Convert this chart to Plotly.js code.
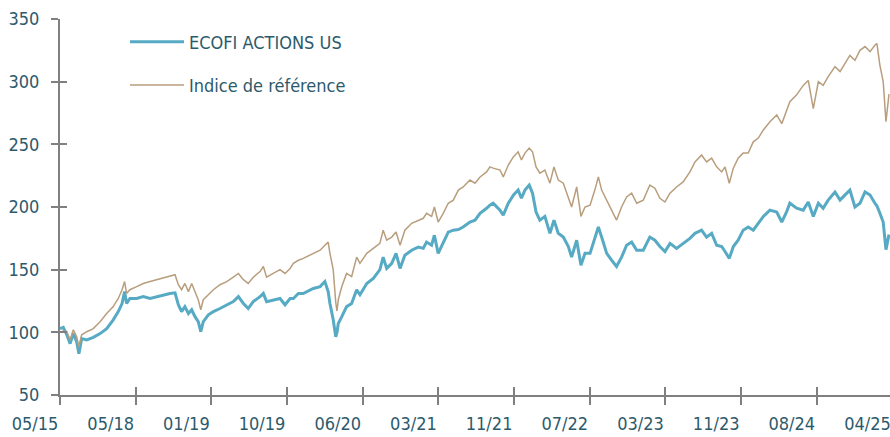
<!DOCTYPE html>
<html>
<head>
<meta charset="utf-8">
<script src="https://cdn.plot.ly/plotly-3.0.1.min.js"></script>
<style>html,body{margin:0;padding:0;background:#fff;}#chart{width:890px;height:437px;}</style>
</head>
<body>
<div id="chart"></div>
<script>
// Time index (one tick label every 30 steps)
const t = [0,1.3,2.7,4.0,5.3,6.6,7.5,8.6,10.6,13.2,15.9,18.5,21.1,23.1,24.6,25.6,26.4,27.7,30.4,33.0,35.7,38.3,40.9,43.6,45.6,46.9,48.2,49.5,50.9,52.2,53.5,54.8,55.8,56.8,58.8,60.8,63.4,66.1,68.7,70.7,72.7,74.6,76.6,79.3,80.6,81.9,84.5,87.2,89.2,91.2,92.5,94.5,96.4,100.4,103.1,105.0,106.3,107.0,108.3,109.3,109.8,110.3,111.7,113.6,115.6,117.6,118.9,121.6,124.2,126.8,128.1,129.5,131.5,133.2,134.8,136.7,139.4,142.0,144.0,145.3,147.3,148.4,149.9,151.9,153.9,155.9,157.9,159.8,162.5,164.5,166.5,169.1,170.4,171.7,174.4,175.7,177.7,179.7,181.6,182.9,184.3,186.0,187.3,188.7,190.2,192.2,194.2,195.8,197.5,199.5,201.5,202.8,204.8,206.5,208.1,210.1,212.0,213.4,214.7,216.7,218.7,220.6,222.6,224.6,226.6,228.6,231.2,233.8,235.8,237.8,239.8,241.8,244.4,247.0,249.7,251.7,254.3,256.3,258.3,260.3,262.3,263.6,265.3,266.9,268.8,270.8,272.8,274.8,276.8,278.8,281.4,284.1,286.1,288.0,289.3,292.0,294.6,296.6,298.6,300.6,302.5,304.5,307.2,309.2,311.1,313.1,315.1,317.1,319.1,321.1,323.0,323.8,325.0,326.3,327.4,328.6];

const ecofi = [103,104,98,91,99,92.5,83,95,94,96,99,103,110,116.5,123,132.5,123,127,127,128.5,127,128.5,130,131,131.5,122,116.5,120.5,115,118,112.5,108.5,100.5,108.5,114,116.5,119,122,124.5,128.5,123,119,124.5,128.5,131,124.5,126,127,122,127,127,131,131,135,136.5,140.5,132.5,123,110,96.5,100,107,112.5,120.5,123,134,130,139,143,150,160,151,155,163,151,161.5,165.5,168,167,172,169.5,177.5,163,172,180,181.5,182,184,188,189.5,195,199,201.5,203,197.5,193.5,203,209.5,213.5,207,213.5,217.5,211,196,189.5,192.5,179,189.5,179,176,168.5,160,173.5,153.5,163,163,176,184,176,163,157.5,152.5,160,169.5,172,165.5,165.5,176,173.5,168.5,164.5,171,167,171,175,179,181.5,176,179,169.5,168.5,164.5,159,168.5,173.5,181.5,184,181.5,187,192.5,197.5,196,188,196,203,199,197.5,204,192.5,203,199,205.5,212,205.5,209.5,213.5,200,203,212,209.5,203,201,195,188,166,178];

const indice = [100,101,100.5,94,102,96.5,88.5,98,100.5,103,108.5,115,120.5,127,134,140.5,131,134,136.5,139,140.5,142,143,145,146,138,134,139,132.5,139,132.5,126,118,126,130,134,138,140.5,144,147,142,139,144,148.5,152.5,144,147,150,147,151,155,157.5,159,163,165.5,169.5,172,163,150,124,117,126,136.5,147,144.5,160,155,163,167,171,181.5,173.5,176,180,169.5,181.5,187,189.5,191,195,192.5,200,188,195,203,205.5,213.5,216,221.5,219,224,228,232,231,229.5,224,233.5,240,244,237.5,243,247,244,232,227,229.5,219,232,221.5,219,208,200,216,192.5,200,201.5,213.5,224,213.5,205.5,197.5,189.5,200,208,211,203,205.5,217.5,215,207,204,211,216,220,228,236,241.5,236,239,232,228,232,219,231,239,243,243,252,255,261.5,268,273.5,266.5,277.5,284,289.5,297,301,278.5,300,297,304,312,308,314.5,321,317,325,328,324,329,330.5,313,300,268,290];

const tickPos = [0,30,60,90,120,150,180,210,240,270,300,330];
const tickText = ['05/15','05/18','01/19','10/19','06/20','03/21','11/21','07/22','03/23','11/23','08/24','04/25'];
const yTicks = [50,100,150,200,250,300,350];

const FONT = "'DejaVu Sans Condensed', 'Liberation Sans Narrow', Roboto, sans-serif";
const TXT = '#2d5a6b';
const AX = '#808080';
const FS = 18;

const traces = [
  {x: t, y: ecofi, type: 'scatter', mode: 'lines', name: 'ECOFI ACTIONS US',
   line: {color: '#56aac4', width: 3}, legendgroup: 'a', xaxis: 'x', yaxis: 'y'},
  {x: t, y: indice, type: 'scatter', mode: 'lines', name: 'Indice de référence',
   line: {color: '#b89e7d', width: 1.5}, legendgroup: 'b', xaxis: 'x', yaxis: 'y'},
  // helper (empty) traces so the extra tick/label axes are drawn
  {x: [null], y: [null], type: 'scatter', mode: 'lines', xaxis: 'x2', yaxis: 'y', showlegend: false, hoverinfo: 'skip'},
  {x: [null], y: [null], type: 'scatter', mode: 'lines', xaxis: 'x3', yaxis: 'y', showlegend: false, hoverinfo: 'skip'},
  {x: [null], y: [null], type: 'scatter', mode: 'lines', xaxis: 'x', yaxis: 'y2', showlegend: false, hoverinfo: 'skip'}
];

const W = 890, ML = 35, PW = W - ML;
const OFF = 25;            // tick labels sit this many px left of their ticks
const d = OFF / PW;

const layout = {
  width: 890, height: 437,
  margin: {l: ML, r: 0, t: 19, b: 42},
  paper_bgcolor: '#ffffff', plot_bgcolor: 'rgba(0,0,0,0)',
  font: {family: FONT, size: FS, color: TXT},
  showlegend: true,
  legend: {x: (125 - ML) / PW, y: 0.988, xanchor: 'left', yanchor: 'top', bgcolor: 'rgba(0,0,0,0)',
           tracegroupgap: 17, itemwidth: 54, font: {family: FONT, size: FS, color: TXT}},
  xaxis: {domain: [d, 1], range: [0, 329], showline: true, linecolor: AX, linewidth: 2,
          ticks: 'outside', ticklen: 8, tickwidth: 2, tickcolor: AX, tickmode: 'array', tickvals: tickPos,
          showticklabels: false, showgrid: false, zeroline: false, fixedrange: true},
  xaxis2: {domain: [0, (331 * 830 / 329) / PW], range: [0, 331], anchor: 'y', side: 'bottom',
           tickmode: 'array', tickvals: tickPos, ticktext: tickText, ticks: '', showline: false,
           showgrid: false, zeroline: false, ticklabelstandoff: 16, ticklabeloverflow: 'allow',
           tickfont: {family: FONT, size: FS, color: TXT}},
  xaxis3: {overlaying: 'x', range: [0, 329], anchor: 'y', side: 'bottom', ticks: 'inside', ticklen: 8,
           tickwidth: 2, tickcolor: AX, tickmode: 'array', tickvals: tickPos, showticklabels: false,
           showline: false, showgrid: false, zeroline: false},
  yaxis: {range: [50, 350], showline: true, linecolor: AX, linewidth: 2, ticks: 'outside', ticklen: 7,
          tickwidth: 2, tickcolor: AX, tickmode: 'array', tickvals: yTicks, showgrid: false, zeroline: false,
          ticklabelstandoff: 8, ticklabeloverflow: 'allow', tickfont: {family: FONT, size: FS, color: TXT}},
  yaxis2: {overlaying: 'y', range: [50, 350], anchor: 'x', side: 'left', ticks: 'inside', ticklen: 7,
           tickwidth: 2, tickcolor: AX, tickmode: 'array', tickvals: yTicks, showticklabels: false,
           showline: false, showgrid: false, zeroline: false}
};

Plotly.newPlot('chart', traces, layout, {staticPlot: true, displayModeBar: false});
</script>
</body>
</html>
